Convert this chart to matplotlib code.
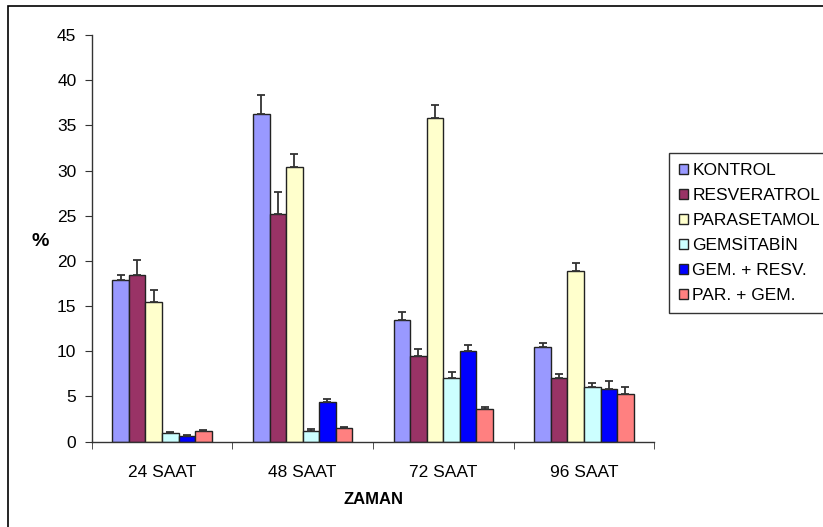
import matplotlib.pyplot as plt
import numpy as np
from matplotlib.patches import Rectangle

plt.rcParams['font.family'] = ['Liberation Sans', 'DejaVu Sans']

groups = ['24 SAAT', '48 SAAT', '72 SAAT', '96 SAAT']
series = ['KONTROL', 'RESVERATROL', 'PARASETAMOL', 'GEMSİTABİN',
          'GEM. + RESV.', 'PAR. + GEM.']
colors = ['#9999FF', '#993366', '#FFFFCC', '#CCFFFF', '#0000FF', '#FF8080']

kontrol = [17.85, 36.3, 13.5, 10.5]
resveratrol = [18.45, 25.2, 9.45, 7.0]
parasetamol = [15.45, 30.35, 35.8, 18.9]
gemsitabin = [1.0, 1.15, 7.0, 6.1]
gem_resv = [0.6, 4.35, 10.0, 5.85]
par_gem = [1.15, 1.5, 3.6, 5.25]

kontrol_err = [0.6, 2.1, 0.8, 0.45]
resveratrol_err = [1.65, 2.4, 0.75, 0.5]
parasetamol_err = [1.35, 1.45, 1.45, 0.9]
gemsitabin_err = [0.1, 0.2, 0.7, 0.35]
gem_resv_err = [0.1, 0.4, 0.65, 0.9]
par_gem_err = [0.15, 0.15, 0.25, 0.75]

values = [kontrol, resveratrol, parasetamol, gemsitabin, gem_resv, par_gem]
errors = [kontrol_err, resveratrol_err, parasetamol_err, gemsitabin_err,
          gem_resv_err, par_gem_err]


def main():
    fig = plt.figure(figsize=(8.23, 5.27), dpi=100)
    ax = fig.add_axes([0.1114, 0.1619, 0.6836, 0.7717])

    # outer chart border (runs off the right and bottom edges)
    fig.patches.append(Rectangle((8 / 823, -0.02), 1.0, (527 - 6) / 527 + 0.02,
                                 transform=fig.transFigure, fill=False,
                                 edgecolor='black', linewidth=1.2))

    x = np.arange(len(groups))
    w = 1 / 8.5
    for i, (vals, errs) in enumerate(zip(values, errors)):
        pos = x + (i - 3) * w + w / 2
        ax.bar(pos, vals, width=w, color=colors[i], edgecolor='#222222',
               linewidth=1.0, label=series[i], zorder=2)
        ax.errorbar(pos, vals, yerr=[np.zeros(len(errs)), errs], fmt='none',
                    ecolor='#333333', elinewidth=1.3, capsize=3.2,
                    capthick=1.3, zorder=3)

    ax.set_xlim(-0.5, len(groups) - 0.5)
    ax.set_ylim(0, 45)
    ax.set_yticks(np.arange(0, 46, 5))
    ax.set_xticks(x)
    ax.set_xticklabels(groups)
    ax.set_xticks(np.arange(-0.5, len(groups), 1), minor=True)
    ax.tick_params(axis='x', which='major', length=0, pad=17, labelsize=12.5)
    ax.tick_params(axis='x', which='minor', length=5, direction='out',
                   color='#333333')
    ax.tick_params(axis='y', length=5, direction='out', pad=6,
                   labelsize=12.5, color='#333333')

    for s in ['top', 'right']:
        ax.spines[s].set_visible(False)
    for s in ['left', 'bottom']:
        ax.spines[s].set_color('#333333')
        ax.spines[s].set_linewidth(1.0)

    fig.text(40 / 823, 1 - 242 / 527, '%', fontsize=14, fontweight='bold',
             ha='center', va='center')
    fig.text(373 / 823, 1 - 499 / 527, 'ZAMAN', fontsize=12,
             fontweight='bold', ha='center', va='center')

    leg = ax.legend(loc='upper left', bbox_to_anchor=(669 / 823, 1 - 153 / 527),
                    bbox_transform=fig.transFigure, fontsize=12.5,
                    handlelength=0.5, handleheight=0.5, handletextpad=0.25,
                    labelspacing=0.57, borderpad=0.6, borderaxespad=0,
                    frameon=True, fancybox=False)
    leg.get_frame().set_edgecolor('black')
    leg.get_frame().set_linewidth(1.0)

    fig.savefig('out.png', dpi=100)


if __name__ == '__main__':
    main()
